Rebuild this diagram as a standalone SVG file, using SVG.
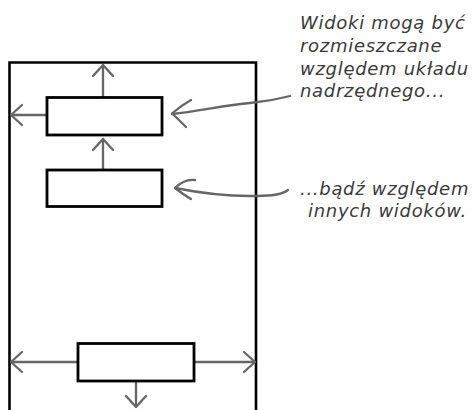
<svg xmlns="http://www.w3.org/2000/svg" width="472" height="410" viewBox="0 0 472 410">
<style>
.frame{fill:none;stroke:#000;stroke-width:2.6}
.box{fill:#fff;stroke:#000;stroke-width:2.8}
.arr{fill:none;stroke:#666;stroke-width:2.3;stroke-linecap:round;stroke-linejoin:round}
.note{font-family:"DejaVu Sans",sans-serif;font-style:oblique;font-size:18px;letter-spacing:0.7px;fill:#3a3a3a}
</style>
<defs>
<marker id="chev" markerUnits="userSpaceOnUse" viewBox="-13 -12 16 24" markerWidth="16" markerHeight="24" refX="0" refY="0" orient="auto">
<path d="M-11,-10 L0,0 L-11,10" fill="none" stroke="#666" stroke-width="2.3" stroke-linecap="round" stroke-linejoin="round"/>
</marker>
</defs>
<rect width="472" height="410" fill="#fff"/>
<g id="parent">
<path class="frame" d="M9.5,412 V62.5 H256 V412"/>
</g>
<g id="connectors">
<path class="arr" d="M103,97 V65" marker-end="url(#chev)"/>
<path class="arr" d="M47,115 H11" marker-end="url(#chev)"/>
<path class="arr" d="M103,170 V139" marker-end="url(#chev)"/>
<path class="arr" d="M78,362 H11" marker-end="url(#chev)"/>
<path class="arr" d="M194,362 H255" marker-end="url(#chev)"/>
<path class="arr" d="M136,381 V407" marker-end="url(#chev)"/>
<path class="arr" d="M290,96 C275,100 262,102 250,103 C225,105 200,111 172,114"/>
<path class="arr" d="M191,100 C182,105 176,110 172,113.5 C177,118 182,123 186,127"/>
<path class="arr" d="M288,190 C280,196 265,196 250,196 C225,196 200,193 175,188"/>
<path class="arr" d="M195,180 C187,179 180,183 175,188 C180,192 186,196 191,199"/>
</g>
<g id="view1"><rect class="box" x="47" y="97.5" width="115" height="37.5"/></g>
<g id="view2"><rect class="box" x="47" y="170" width="115" height="36.5"/></g>
<g id="view3"><rect class="box" x="78" y="343.5" width="116" height="37.5"/></g>
<g id="note1">
<text class="note" x="300" y="29">Widoki mogą być</text>
<text class="note" x="300" y="52">rozmieszczane</text>
<text class="note" x="300" y="75">względem układu</text>
<text class="note" x="300" y="97">nadrzędnego...</text>
</g>
<g id="note2">
<text class="note" x="300" y="195">...bądź względem</text>
<text class="note" x="308" y="217">innych widoków.</text>
</g>
</svg>
